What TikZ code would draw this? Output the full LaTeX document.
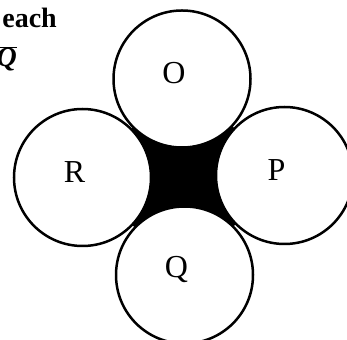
\documentclass[tikz,border=0pt]{standalone}
\usepackage{fontspec}
\setmainfont{Liberation Serif}
\usetikzlibrary{positioning}

\begin{document}
\begin{tikzpicture}[x=1pt, y=1pt,
			disc/.style={draw, circle, fill=white, line width=2.5pt, minimum size=137pt, inner sep=0pt},
			letter/.style={font=\fontsize{32}{36}\selectfont, inner sep=0pt, xshift=-8pt, yshift=5.5pt},
			caption/.style={font=\fontsize{28}{32}\selectfont\bfseries, inner sep=0pt}
			]
			\useasboundingbox (0,0) rectangle (347,339);
			
			\coordinate (cO) at (182,260);
			\coordinate (cP) at (284.5,163.5);
			\coordinate (cQ) at (184.5,64);
			\coordinate (cR) at (82.5,161.5);
			
			% black gap between the four discs
			\fill[black] (cO) -- (cP) -- (cQ) -- (cR) -- cycle;
			
			\node[disc] (O) at (cO) {};
			\node[disc] (P) at (cP) {};
			\node[disc] (Q) at (cQ) {};
			\node[disc] (R) at (cR) {};
			
			\node[letter] (lO) at (O.center) {O};
			\node[letter] (lP) at (P.center) {P};
			\node[letter] (lQ) at (Q.center) {Q};
			\node[letter] (lR) at (R.center) {R};
			
			\node[caption, anchor=base east] (each) at (57,311) {each};
			\node[caption, anchor=base east] (qbar) at (17,272) {$\overline{\hbox{\bfseries\itshape Q}}$};
	\end{tikzpicture}
\end{document}
